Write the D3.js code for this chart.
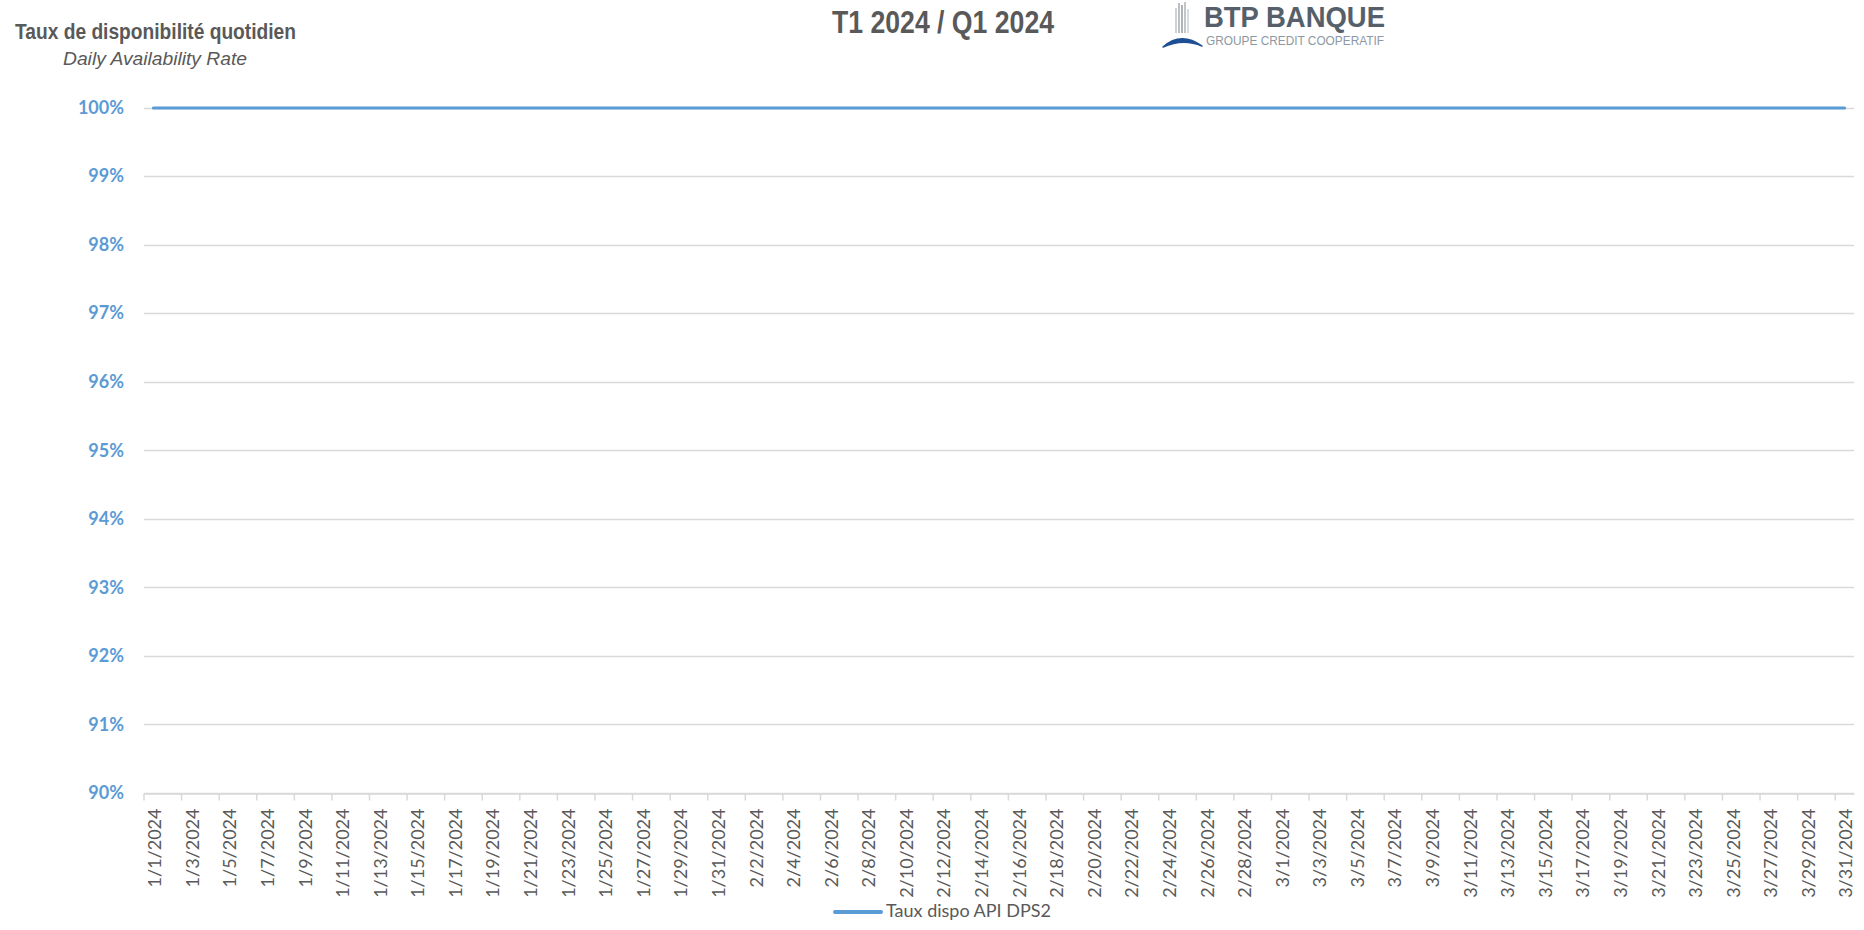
<!DOCTYPE html>
<html>
<head>
    <meta charset="utf-8">
    <title>Taux de disponibilité quotidien</title>
    <script src="https://d3js.org/d3.v7.min.js"></script>
    <style>
        html, body { margin: 0; padding: 0; background: #fff; }
        svg { display: block; }
    </style>
</head>
<body>
<svg id="chart" width="1864" height="930"></svg>

<script>
    // Données : un point par jour, T1 2024
    var firstDay = new Date(2024, 0, 1);
    var lastDay = new Date(2024, 2, 31);
    var dates = d3.timeDay.range(firstDay, d3.timeDay.offset(lastDay, 1));

    // Taux dispo API DPS2 (%)
    var values = [
        100, 100, 100, 100, 100, 100, 100, 100, 100, 100,
        100, 100, 100, 100, 100, 100, 100, 100, 100, 100,
        100, 100, 100, 100, 100, 100, 100, 100, 100, 100,
        100, 100, 100, 100, 100, 100, 100, 100, 100, 100,
        100, 100, 100, 100, 100, 100, 100, 100, 100, 100,
        100, 100, 100, 100, 100, 100, 100, 100, 100, 100,
        100, 100, 100, 100, 100, 100, 100, 100, 100, 100,
        100, 100, 100, 100, 100, 100, 100, 100, 100, 100,
        100, 100, 100, 100, 100, 100, 100, 100, 100, 100,
        100
    ];

    var yTicks = [90, 91, 92, 93, 94, 95, 96, 97, 98, 99, 100];
    var seriesName = "Taux dispo API DPS2";

    var fmt = d3.timeFormat("%-m/%-d/%Y");
    var labels = dates.map(fmt);

    var svg = d3.select("#chart");

    // zone de tracé (pas de "top" : window.top est en lecture seule)
    var plotLeft = 144, plotRight = 1854, plotTop = 107.5, plotBottom = 793;

    var x = d3.scaleBand().domain(labels).range([plotLeft, plotRight]).padding(0);
    var y = d3.scaleLinear().domain([90, 100]).range([plotBottom, plotTop]);

    // Grille horizontale
    svg.append("g")
        .selectAll("line")
        .data(yTicks)
        .enter().append("line")
        .attr("x1", plotLeft)
        .attr("x2", plotRight)
        .attr("y1", function(d) { return Math.round(y(d)) + 0.5; })
        .attr("y2", function(d) { return Math.round(y(d)) + 0.5; })
        .style("stroke", "#d9d9d9")
        .style("stroke-width", 1.5);

    // Axe Y : étiquettes
    svg.append("g")
        .selectAll("text")
        .data(yTicks)
        .enter().append("text")
        .attr("x", 124)
        .attr("y", function(d) { return y(d); })
        .attr("dy", "0.35em")
        .attr("text-anchor", "end")
        .style("font-family", "Lato, 'Open Sans', sans-serif")
        .style("font-weight", 700)
        .style("font-size", "18px")
        .style("fill", "#5b9bd5")
        .text(function(d) { return d + "%"; });

    // Axe X : une graduation tous les deux jours
    var tickLabels = labels.filter(function(d, i) { return i % 2 === 0; });
    var xAxis = svg.append("g")
        .attr("transform", "translate(0," + (Math.round(plotBottom) + 0.5) + ")")
        .call(d3.axisBottom(x).tickValues(tickLabels).tickSize(7).tickSizeOuter(0));

    xAxis.select(".domain").style("stroke", "#d9d9d9").style("stroke-width", 1.5);
    xAxis.selectAll(".tick line")
        .attr("x1", -x.bandwidth() / 2)
        .attr("x2", -x.bandwidth() / 2)
        .style("stroke", "#d9d9d9")
        .style("stroke-width", 1.5);
    xAxis.selectAll(".tick text")
        .attr("transform", "rotate(-90)")
        .attr("x", -15)
        .attr("y", 1.5)
        .attr("dy", "0.35em")
        .attr("text-anchor", "end")
        .style("font-family", "Lato, 'Open Sans', sans-serif")
        .style("font-size", "18px")
        .style("fill", "#595959");

    // Série
    var line = d3.line()
        .x(function(d, i) { return x(labels[i]) + x.bandwidth() / 2; })
        .y(function(d) { return y(d) + 0.5; });

    svg.append("path")
        .datum(values)
        .attr("d", line)
        .style("fill", "none")
        .style("stroke", "#5b9bd5")
        .style("stroke-width", 3)
        .style("stroke-linecap", "round");

    // Titres
    svg.append("text")
        .attr("x", 15)
        .attr("y", 39)
        .style("font-family", "'Liberation Sans Narrow', 'Liberation Sans', Arial, sans-serif")
        .style("font-weight", 700)
        .style("font-size", "22px")
        .style("fill", "#595959")
        .attr("textLength", 281)
        .attr("lengthAdjust", "spacingAndGlyphs")
        .text("Taux de disponibilité quotidien");

    svg.append("text")
        .attr("x", 63)
        .attr("y", 65)
        .style("font-family", "'Liberation Sans Narrow', 'Liberation Sans', Arial, sans-serif")
        .style("font-style", "italic")
        .style("font-size", "18px")
        .style("fill", "#595959")
        .attr("textLength", 184)
        .attr("lengthAdjust", "spacingAndGlyphs")
        .text("Daily Availability Rate");

    svg.append("text")
        .attr("x", 832)
        .attr("y", 33)
        .style("font-family", "'Liberation Sans Narrow', 'Liberation Sans', Arial, sans-serif")
        .style("font-weight", 700)
        .style("font-size", "32px")
        .style("fill", "#595959")
        .attr("textLength", 222)
        .attr("lengthAdjust", "spacingAndGlyphs")
        .text("T1 2024 / Q1 2024");

    // Logo BTP BANQUE
    var logo = svg.append("g");
    var stripes = [[1176, 8], [1179, 3], [1182, 5], [1185, 2], [1188, 9]];
    logo.selectAll("line")
        .data(stripes)
        .enter().append("line")
        .attr("x1", function(d) { return d[0]; })
        .attr("x2", function(d) { return d[0]; })
        .attr("y1", function(d) { return d[1]; })
        .attr("y2", 33)
        .style("stroke", function(d, i) { return ["#c4c8cc", "#a9afb5", "#9aa1a8", "#b3b8bd", "#cfd3d6"][i]; })
        .style("stroke-width", 1.6);

    logo.append("path")
        .attr("d", "M1163,47 Q1181,31 1202,46 Q1183,38 1163,47 Z")
        .style("fill", "#1d4f94")
        .style("stroke", "#1d4f94")
        .style("stroke-width", 1.5)
        .style("stroke-linejoin", "round");

    logo.append("text")
        .attr("x", 1204)
        .attr("y", 27)
        .style("font-family", "'Liberation Sans', Arial, sans-serif")
        .style("font-weight", 700)
        .style("font-size", "30px")
        .style("fill", "#55606b")
        .attr("textLength", 181)
        .attr("lengthAdjust", "spacingAndGlyphs")
        .text("BTP BANQUE");

    logo.append("text")
        .attr("x", 1206)
        .attr("y", 45)
        .style("font-family", "'Liberation Sans Narrow', 'Liberation Sans', Arial, sans-serif")
        .style("font-size", "13px")
        .style("fill", "#8c98a3")
        .attr("textLength", 178)
        .attr("lengthAdjust", "spacingAndGlyphs")
        .text("GROUPE CREDIT COOPERATIF");

    // Légende
    var legend = svg.append("g");
    legend.append("line")
        .attr("x1", 835)
        .attr("x2", 881)
        .attr("y1", 912)
        .attr("y2", 912)
        .style("stroke", "#5b9bd5")
        .style("stroke-width", 4)
        .style("stroke-linecap", "round");
    legend.append("text")
        .attr("x", 886)
        .attr("y", 917)
        .style("font-family", "Lato, 'Open Sans', sans-serif")
        .style("font-size", "18px")
        .style("fill", "#595959")
        .text(seriesName);
</script>
</body>
</html>
